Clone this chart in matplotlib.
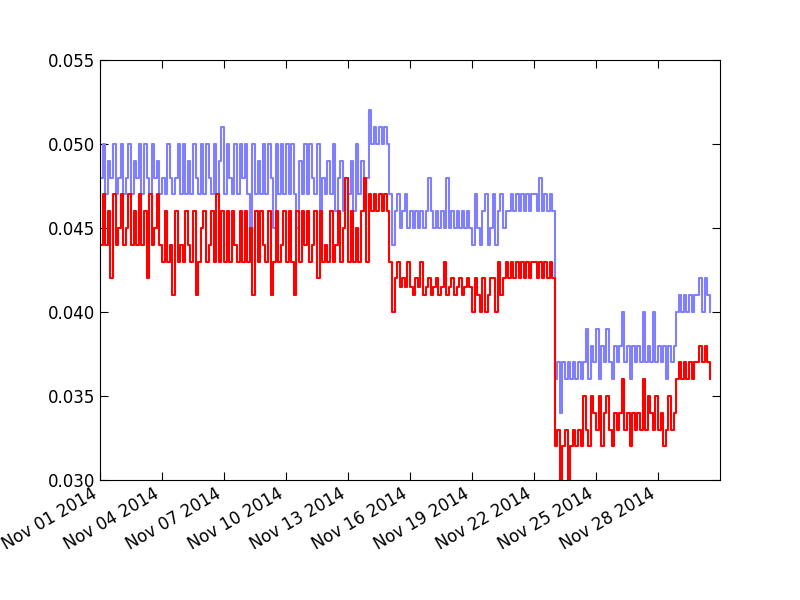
import matplotlib
matplotlib.use('Agg')
import matplotlib.pyplot as plt
import matplotlib.dates as mdates
import pandas as pd

# values in thousandths, 8 readings per day (every 3 hours), starting Nov 01 2014
blue_days = [
    "48 50 47 49 48 50 47 48", "50 47 48 50 47 49 48 50", "47 50 48 47 50 48 49 47",
    "48 47 50 48 47 48 50 47", "50 47 49 47 50 48 47 50", "47 50 48 47 50 47 49 51",
    "47 50 48 47 50 47 50 48", "50 47 45 50 47 49 47 50", "47 50 48 45 50 47 50 47",
    "50 47 50 47 45 49 47 50", "47 50 48 47 50 46 48 47", "49 47 50 46 48 49 46 48",
    "47 49 46 50 47 49 46 48", "52 50 51 50 51 50 51 50", "47 44 46 47 45 46 47 45",
    "46 45 46 45 46 45 46 48", "46 45 46 45 46 45 48 45", "46 45 46 45 46 45 46 45",
    "44 47 45 44 46 47 44 45", "47 44 46 47 45 46 46 47", "46 47 46 47 46 47 46 47",
    "47 46 48 46 47 46 47 46", "36 37 34 37 36 37 36 37", "36 37 36 37 39 36 38 37",
    "39 36 38 37 39 37 36 38", "37 38 40 37 38 36 38 37", "38 37 40 37 38 37 40 37",
    "38 37 38 36 38 37 38 40", "41 40 41 40 41 40 41 41", "42 40 42 41 40",
]
red_days = [
    "44 47 44 46 42 47 44 45", "47 44 45 47 44 46 44 47", "44 46 42 47 44 45 47 44",
    "43 46 43 44 41 46 43 44", "43 46 44 43 46 41 43 45", "46 43 44 46 43 47 43 46",
    "43 46 43 46 44 43 46 43", "46 43 45 41 46 43 46 44", "43 46 41 43 46 43 44 46",
    "43 46 43 41 46 43 46 44", "46 43 44 46 42 46 43 44", "43 46 43 44 46 43 45 48",
    "43 46 43 45 43 46 48 43", "47 46 47 46 47 46 47 46", "43 40 42 43 41.5 42 41.5 43",
    "41.5 41 42 41.5 43 41 41.5 42", "41 41.5 42 41 41.5 43 41 41.5", "42 41 41.5 42 41 41.5 42 41.5",
    "40 42 41 40 42 40 41 42", "42 40 43 41 42 43 42 43", "42 43 42 43 42 43 42 43",
    "43 42 43 42 43 42 43 42", "32 33 30 32 33 30 32 33", "32 33 32 35 33 32 35 34",
    "33 35 32 34 35 33 32 34", "33 34 36 33 34 32 34 33", "34 33 36 33 35 34 33 35",
    "33 34 32 33 35 33 34 36", "37 36 37 36 37 36 37 37", "38 37 38 37 36",
]
tick_days = ["2014-11-01", "2014-11-04", "2014-11-07", "2014-11-10", "2014-11-13",
             "2014-11-16", "2014-11-19", "2014-11-22", "2014-11-25", "2014-11-28"]

blue = [float(v) / 1000 for d in blue_days for v in d.split()]
red = [float(v) / 1000 for d in red_days for v in d.split()]
times = pd.date_range("2014-11-01", periods=len(blue), freq="3h")

fig = plt.figure(figsize=(8, 6), dpi=100, facecolor="white")
ax = fig.add_axes([0.125, 0.2, 0.775, 0.7])
ax.plot(times, blue, color="#8080ff", lw=1.5, drawstyle="steps-post")
ax.plot(times, red, color="red", lw=1.5, drawstyle="steps-post")

ax.set_ylim(0.030, 0.055)
ax.set_yticks([0.030, 0.035, 0.040, 0.045, 0.050, 0.055])
ax.yaxis.set_major_formatter(plt.FormatStrFormatter("%.3f"))
ax.set_xlim(pd.Timestamp("2014-11-01"), pd.Timestamp("2014-12-01"))
ax.set_xticks([pd.Timestamp(d) for d in tick_days])
ax.xaxis.set_major_formatter(mdates.DateFormatter("%b %d %Y"))
ax.tick_params(direction="in", labelsize=12, top=True, right=True, length=6)
for lab in ax.get_xticklabels():
    lab.set_rotation(30)
    lab.set_ha("right")

fig.savefig("out.png", facecolor="white")
